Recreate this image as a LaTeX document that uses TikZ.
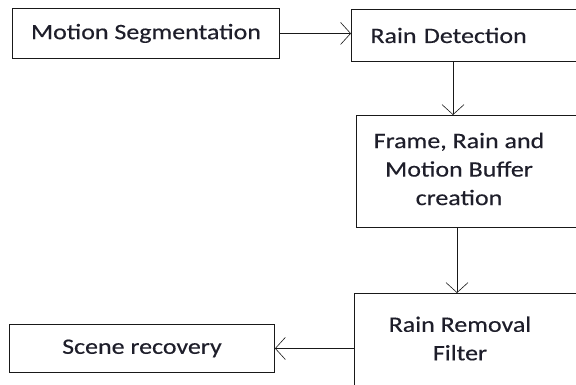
\documentclass[tikz,border=0pt]{standalone}
\usepackage{fontspec}
\setmainfont{Carlito}[FakeStretch=1.18,FakeBold=0.35]
\usetikzlibrary{arrows.meta}
\definecolor{txt}{HTML}{1E1E2A}
\tikzset{
  box/.style={draw=black!90, line width=0.9pt, rectangle, inner sep=0pt, text=txt},
  lbl/.style={text=txt, align=center, inner sep=0pt, font=\fontsize{22}{28.5}\selectfont},
  arr/.style={draw=black!90, line width=0.9pt, -{Straight Barb[length=10pt,width=22pt,line width=0.6pt]}}
}
\begin{document}
\begin{tikzpicture}[x=1pt,y=-1pt]
\useasboundingbox (0,0) rectangle (576,385);
\clip (0,0) rectangle (576,385);
\fill[white] (0,0) rectangle (576,385);
% boxes
\node[box, anchor=north west, minimum width=267pt, minimum height=50pt, font=\fontsize{22}{28.5}\selectfont] (b1) at (12,8) {Motion Segmentation};
\node[box, anchor=north west, minimum width=269pt, minimum height=52pt, text width=231pt, inner xsep=19pt, align=left, font=\fontsize{22}{28.5}\selectfont] (b2) at (351,9) {Rain Detection};
\node[box, anchor=north west, minimum width=260pt, minimum height=112pt] (b3) at (356,115) {};
\node[box, anchor=north west, minimum width=266pt, minimum height=130pt] (b4) at (354,293) {};
\node[box, anchor=north west, minimum width=265pt, minimum height=48pt, font=\fontsize{22}{28.5}\selectfont] (b5) at (9,324) {Scene recovery};
% texts
\node[lbl] (t3) at (459,169) {Frame, Rain and\\Motion Buffer\\creation};
\node[lbl] (t4) at (460,338.5) {Rain Removal\\Filter};
% connector columns
\coordinate (c1) at (453,0);
\coordinate (c2) at (457,0);
% arrows
\draw[arr] (b1.east) -- (b1.east -| b2.west);
\draw[arr] (c1 |- b2.south) -- (c1 |- b3.north);
\draw[arr] (c2 |- b3.south) -- (c2 |- b4.north);
\draw[arr] (b4.west |- b5.east) -- (b5.east);
\end{tikzpicture}
\end{document}
